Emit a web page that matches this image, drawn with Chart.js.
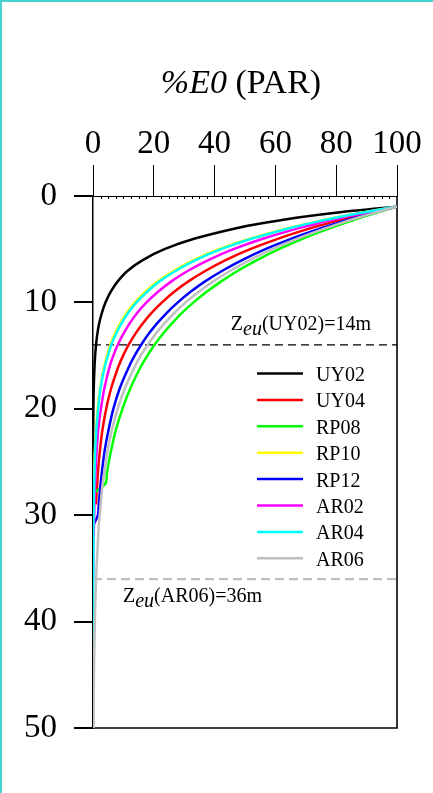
<!DOCTYPE html>
<html>
<head>
<meta charset="utf-8">
<script src="https://cdn.jsdelivr.net/npm/chart.js@4"></script>
<style>
  html, body { margin: 0; padding: 0; background: #fff; }
  #wrap { position: relative; width: 433px; height: 793px; }
  #frame { position: absolute; left: 0; top: 0; right: 0; bottom: 0;
           border-top: 2px solid #46d2d2; border-left: 2px solid #46d2d2; pointer-events: none; }
</style>
</head>
<body>
<div id="wrap">
  <canvas id="parChart" width="433" height="793"></canvas>
  <div id="frame"></div>
</div>
<script>
// Depth (m) and light as % of surface PAR for each station
const depth = [1, 1.5, 2, 2.5, 3, 4, 5, 6, 7, 8, 9, 10, 11, 12, 13, 14, 15, 16, 18, 20, 22, 24, 26, 27, 28, 29, 30, 31, 32, 36, 40, 45, 50];

const stations = ['UY02', 'UY04', 'RP08', 'RP10', 'RP12', 'AR02', 'AR04', 'AR06'];

const uy02 = [100, 82, 68, 57, 47.5, 33.5, 23.5, 16.5, 11.5, 8.2, 5.8, 4.1, 2.9, 2.0, 1.4, 1.0, 0.7, 0.5, 0.25, 0.12, 0.06, 0.03, 0.01, 0.01, 0,
              null, null, null, null, null, null, null, null];
const uy04 = [100, 92.1, 84.8, 78.1, 71.9, 61.0, 51.7, 43.8, 37.2, 31.5, 26.7, 22.7, 19.2, 16.3, 13.8, 11.7, 9.9, 8.4, 6.05, 4.35, 3.1, 2.25, 1.6, 1.4, 1.15, 1.0,
              null, null, null, null, null, null, null];
const rp08 = [100, 94.0, 88.4, 83.2, 78.2, 69.1, 61.1, 54.1, 47.8, 42.3, 37.4, 33.1, 29.2, 25.9, 22.9, 20.2, 17.9, 15.8, 12.4, 9.7, 7.5, 5.9, 4.6, 4.1, 0.3, 0.1, 0.05, 0,
              null, null, null, null, null];
const rp10 = [100, 89.6, 80.3, 71.9, 64.4, 51.7, 41.4, 33.2, 26.7, 21.4, 17.2, 13.8, 11.0, 8.9, 7.1, 5.7, 4.6, 3.7, 2.4, 1.5, 1.0, 0.6, 0.4, 0.35, 0.3, 0.2, 0.15,
              null, null, null, null, null, null];
const rp12 = [100, 93.1, 86.8, 80.8, 75.3, 65.3, 56.7, 49.2, 42.7, 37.0, 32.1, 27.9, 24.2, 21.0, 18.2, 15.8, 13.7, 11.9, 8.9, 6.7, 5.1, 3.8, 2.9, 2.5, 2.2, 1.9, 1.6, 0.1, 0.05, 0,
              null, null, null];
const ar02 = [100, 90.8, 82.4, 74.9, 68.0, 56.1, 46.2, 38.1, 31.4, 25.9, 21.4, 17.6, 14.5, 12.0, 9.9, 8.1, 6.7, 5.5, 3.8, 2.6, 1.7, 1.2, 0.8, 0.7, 0.55, 0.45, 0.4, 0.3, 0.25,
              null, null, null, null];
const ar04 = [100, 89.8, 80.6, 72.3, 64.9, 52.3, 42.1, 33.9, 27.4, 22.0, 17.8, 14.3, 11.5, 9.3, 7.5, 6.0, 4.9, 3.9, 2.5, 1.7, 1.1, 0.7, 0.5, 0.4, 0.3, 0.25, 0.2, 0.15, 0.1, 0.05, 0.02, 0.01, 0];
const ar06 = [100, 93.6, 87.6, 82.0, 76.8, 67.3, 59.0, 51.7, 45.3, 39.7, 34.8, 30.5, 26.7, 23.4, 20.5, 18.0, 15.7, 13.8, 10.6, 8.1, 6.2, 4.8, 3.7, 3.2, 2.8, 2.5, 2.2, 1.9, 1.7, 1.0, 0.6, 0.3, 0.15];

const profiles = [uy02, uy04, rp08, rp10, rp12, ar02, ar04, ar06];

// euphotic depths marked on the plot
const zeuStations = ['UY02', 'AR06'];
const zeuDepth = [14, 36];

const palette = ['#000000', '#ff0000', '#00ff00', '#ffff00', '#0000ff', '#ff00ff', '#00ffff', '#c0c0c0'];
const zeuColors = ['#000000', '#c0c0c0'];

const serif = '"Liberation Serif", "Times New Roman", serif';

const datasets = profiles.map((vals, i) => ({
  label: stations[i],
  data: vals.map((v, j) => (v === null ? null : {x: v, y: depth[j]})).filter(p => p),
  borderColor: palette[i],
  borderWidth: 2.5,
  pointRadius: 0,
  showLine: true,
  tension: 0.3,
  order: stations.length - i
}));

zeuDepth.forEach((z, i) => {
  datasets.push({
    label: 'Zeu ' + zeuStations[i],
    data: [{x: 0, y: z}, {x: 100, y: z}],
    borderColor: zeuColors[i],
    borderWidth: i === 0 ? 1.3 : 2.2,
    borderDash: i === 0 ? [8, 5] : [9, 5],
    pointRadius: 0,
    showLine: true,
    order: 20
  });
});

function drawZeu(ctx, x, y, station, z, align) {
  const parts = [
    {t: 'Z', font: '20px ' + serif, dy: 0},
    {t: 'eu', font: 'italic 20px ' + serif, dy: 5},
    {t: '(' + station + ')=' + z + 'm', font: '20px ' + serif, dy: 0}
  ];
  let total = 0;
  parts.forEach(p => { ctx.font = p.font; p.w = ctx.measureText(p.t).width; total += p.w; });
  let cx = align === 'right' ? x - total : x;
  ctx.textAlign = 'left';
  ctx.textBaseline = 'alphabetic';
  parts.forEach(p => {
    ctx.font = p.font;
    ctx.fillText(p.t, cx, y + p.dy);
    cx += p.w;
  });
}

const decorations = {
  id: 'decorations',
  beforeDatasetsDraw(chart) {
    const {ctx, chartArea: a, scales: {x}} = chart;
    ctx.save();
    ctx.strokeStyle = '#000';
    ctx.lineWidth = 1.6;
    ctx.beginPath();
    ctx.moveTo(a.left, a.bottom);
    ctx.lineTo(a.right, a.bottom);
    ctx.lineTo(a.right, a.top);
    ctx.stroke();
    // small inner ticks along the top axis
    ctx.lineWidth = 1;
    ctx.beginPath();
    for (let v = 2.5; v < 100; v += 2.5) {
      if (v % 20 === 0) continue;
      const px = Math.round(x.getPixelForValue(v)) + 0.5;
      ctx.moveTo(px, a.top);
      ctx.lineTo(px, a.top + 3);
    }
    ctx.stroke();
    ctx.restore();
  },
  afterDatasetsDraw(chart) {
    const {ctx, chartArea: a, scales: {y}} = chart;
    ctx.save();
    ctx.fillStyle = '#000';
    // legend
    stations.forEach((name, i) => {
      const ly = a.top + 177.5 + i * 26.4;
      ctx.strokeStyle = palette[i];
      ctx.lineWidth = 2.5;
      ctx.beginPath();
      ctx.moveTo(a.right - 140, ly);
      ctx.lineTo(a.right - 94, ly);
      ctx.stroke();
      ctx.font = '20px ' + serif;
      ctx.textAlign = 'left';
      ctx.textBaseline = 'alphabetic';
      ctx.fillText(name, a.right - 81, ly + 7.5);
    });
    // euphotic depth labels
    drawZeu(ctx, a.right - 26, y.getPixelForValue(zeuDepth[0]) - 15, zeuStations[0], zeuDepth[0], 'right');
    drawZeu(ctx, a.left + 30, y.getPixelForValue(zeuDepth[1]) + 23, zeuStations[1], zeuDepth[1], 'left');
    ctx.restore();
  },
  afterDraw(chart) {
    const {ctx} = chart;
    ctx.save();
    ctx.fillStyle = '#000';
    ctx.textBaseline = 'alphabetic';
    ctx.textAlign = 'left';
    const a = 'italic 34px ' + serif, b = '34px ' + serif;
    ctx.font = a; const w1 = ctx.measureText('%E0').width;
    ctx.font = b; const w2 = ctx.measureText(' (PAR)').width;
    const x0 = 241 - (w1 + w2) / 2;
    ctx.font = a; ctx.fillText('%E0', x0, 93);
    ctx.font = b; ctx.fillText(' (PAR)', x0 + w1, 93);
    ctx.restore();
  }
};

new Chart(document.getElementById('parChart'), {
  type: 'scatter',
  data: {datasets: datasets},
  options: {
    responsive: false,
    animation: false,
    layout: {padding: {left: 0, right: 36, top: 0, bottom: 65}},
    scales: {
      x: {
        type: 'linear',
        position: 'top',
        min: 0,
        max: 100,
        afterFit: s => { s.height = 196; },
        ticks: {stepSize: 20, color: '#000', padding: 1, font: {family: serif, size: 33}},
        grid: {drawOnChartArea: false, tickLength: 31, color: '#000', lineWidth: 1},
        border: {display: true, color: '#000', width: 1}
      },
      y: {
        type: 'linear',
        position: 'left',
        reverse: true,
        min: 0,
        max: 50,
        afterFit: s => { s.width = 93; },
        ticks: {stepSize: 10, color: '#000', padding: 17, font: {family: serif, size: 33}},
        grid: {drawOnChartArea: false, tickLength: 19, color: '#000', lineWidth: 2},
        border: {display: true, color: '#000', width: 1.5}
      }
    },
    plugins: {
      legend: {display: false},
      tooltip: {enabled: false}
    }
  },
  plugins: [decorations]
});
</script>
</body>
</html>
